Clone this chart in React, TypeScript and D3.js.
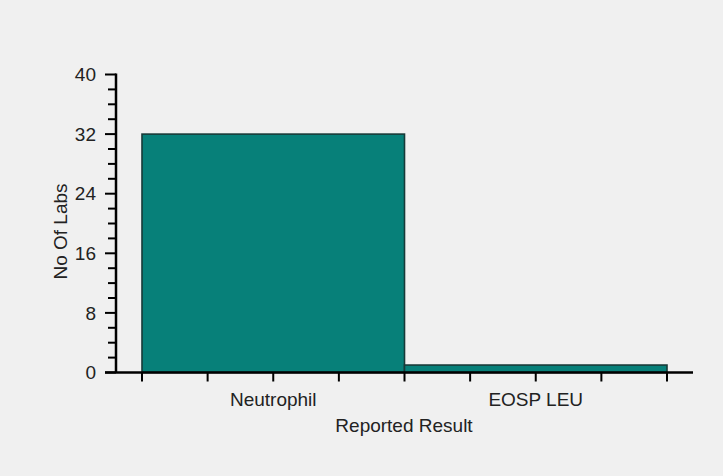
import React from "react";
import * as d3 from "d3";

const categories: string[] = ["Neutrophil", "EOSP LEU"];
const counts: number[] = [32, 1];
const yTicks: number[] = [0, 8, 16, 24, 32, 40];
const yTitle = "No Of Labs";
const xTitle = "Reported Result";

const W = 723;
const H = 476;
const FONT = "'Liberation Sans', Arial, sans-serif";
const FS = 19;

export default function App() {
  const x = d3.scaleBand<string>().domain(categories).range([142, 667]).padding(0);
  const y = d3.scaleLinear().domain([0, 40]).range([372.5, 74.5]);
  const minorY = d3.range(0, 40.01, 2);
  const bw = x.bandwidth();
  const xTickPos: number[] = [];
  categories.forEach((c) => {
    const s = x(c)!;
    for (let i = 0; i < 4; i++) xTickPos.push(s + (bw * i) / 4);
  });
  xTickPos.push(x(categories[categories.length - 1])! + bw);
  const axisX = 116;
  const axisY = y(0);

  return (
    <svg
      width={W}
      height={H}
      style={{ position: "fixed", left: 0, top: 0, background: "#f0f0f0" }}
      fontFamily={FONT}
    >
      <rect x={0} y={0} width={W} height={H} fill="#f0f0f0" />
      {categories.map((c, i) => (
        <rect
          key={c}
          x={x(c)!}
          y={y(counts[i])}
          width={bw}
          height={y(0) - y(counts[i])}
          fill="#078079"
          stroke="#173a38"
          strokeWidth={1.6}
        />
      ))}
      {/* y axis */}
      <line x1={axisX} x2={axisX} y1={y(40) - 1} y2={axisY} stroke="#000" strokeWidth={2.5} />
      {minorY.map((v) => {
        const major = v % 8 === 0;
        return (
          <line
            key={v}
            x1={major ? 105 : 108}
            x2={axisX}
            y1={y(v)}
            y2={y(v)}
            stroke="#000"
            strokeWidth={2}
          />
        );
      })}
      {yTicks.map((v) => (
        <text
          key={v}
          x={96}
          y={y(v)}
          dy="0.35em"
          textAnchor="end"
          fontSize={FS}
          fill="#222"
        >
          {v}
        </text>
      ))}
      {/* x axis */}
      <line x1={105} x2={693} y1={axisY} y2={axisY} stroke="#000" strokeWidth={2.5} />
      {xTickPos.map((p, i) => (
        <line key={i} x1={p} x2={p} y1={axisY} y2={axisY + 9} stroke="#000" strokeWidth={2} />
      ))}
      {categories.map((c) => (
        <text
          key={c}
          x={x(c)! + bw / 2}
          y={406}
          textAnchor="middle"
          fontSize={FS}
          fill="#222"
        >
          {c}
        </text>
      ))}
      <text x={404} y={432} textAnchor="middle" fontSize={FS} fill="#222">
        {xTitle}
      </text>
      <text
        transform={`translate(67,${(y(0) + y(40)) / 2 + 8}) rotate(-90)`}
        textAnchor="middle"
        fontSize={FS}
        fill="#222"
      >
        {yTitle}
      </text>
    </svg>
  );
}
